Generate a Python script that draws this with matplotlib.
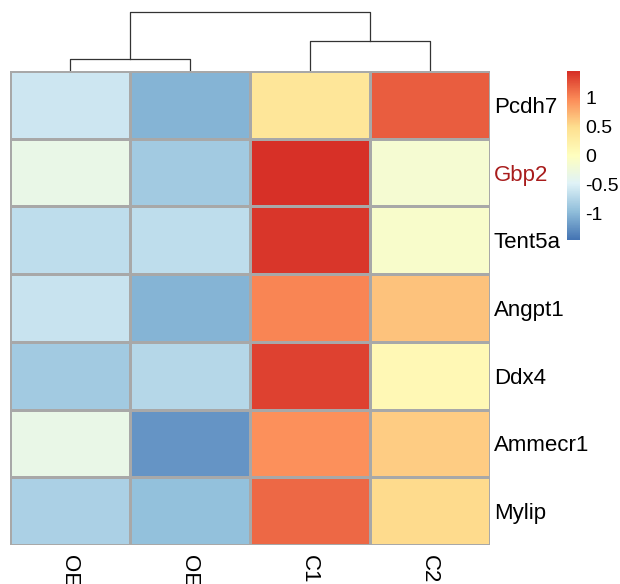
import numpy as np
import matplotlib
matplotlib.use("Agg")
import matplotlib.pyplot as plt
from matplotlib.colors import LinearSegmentedColormap, Normalize

plt.rcParams['font.family'] = ['Liberation Sans', 'DejaVu Sans']

genes = ["Pcdh7", "Gbp2", "Tent5a", "Angpt1", "Ddx4", "Ammecr1", "Mylip"]
samples = ["OE", "OE", "C1", "C2"]
values = np.array([
    [-0.60, -1.05, 0.38, 1.20],
    [-0.35, -0.85, 1.45, -0.15],
    [-0.70, -0.68, 1.42, -0.10],
    [-0.62, -1.05, 1.00, 0.65],
    [-0.85, -0.75, 1.35, 0.10],
    [-0.35, -1.25, 0.95, 0.60],
    [-0.80, -0.95, 1.15, 0.52],
])
merge_heights = [0.7, 1.7, 3.4]
cbar_ticks = [-1, -0.5, 0, 0.5, 1]
vlim = 1.46

palette = ["#4575B4", "#91BFDB", "#E0F3F8", "#FFFFBF", "#FEE090", "#FC8D59", "#D73027"]
cmap = LinearSegmentedColormap.from_list("rdylbu", palette, N=100)
norm = Normalize(-vlim, vlim)

W, H = 620, 584
fig = plt.figure(figsize=(W / 100, H / 100), dpi=100)

def ax_px(x0, y0, x1, y1):
    return fig.add_axes([x0 / W, 1 - y1 / H, (x1 - x0) / W, (y1 - y0) / H])

# heatmap
ax = ax_px(9.5, 71, 489.5, 545)
nr, nc = values.shape
ax.pcolormesh(np.arange(nc + 1), np.arange(nr + 1), values, cmap=cmap, norm=norm,
              edgecolors="#A8A8A8", linewidth=0.75)
ax.set_xlim(0, nc)
ax.set_ylim(nr, 0)
ax.set_xticks(np.arange(nc) + 0.5)
ax.set_xticklabels(samples, rotation=270, fontsize=16)
ax.set_yticks(np.arange(nr) + 0.5)
ax.set_yticklabels(genes, fontsize=16)
ax.yaxis.tick_right()
ax.tick_params(axis="y", length=0, pad=3)
ax.tick_params(axis="x", length=0, pad=7)
for lab in ax.get_yticklabels():
    if lab.get_text() == "Gbp2":
        lab.set_color("#A81C1C")
for s in ax.spines.values():
    s.set_visible(False)

# dendrogram
dax = ax_px(9.5, 10, 489.5, 71)
h1, h2, h3 = merge_heights
c = np.arange(nc) + 0.5
lc = "#333333"
lw = 0.9
dax.plot([c[0], c[0], c[1], c[1]], [0, h1, h1, 0], color=lc, lw=lw)
dax.plot([c[2], c[2], c[3], c[3]], [0, h2, h2, 0], color=lc, lw=lw)
m1 = (c[0] + c[1]) / 2
m2 = (c[2] + c[3]) / 2
dax.plot([m1, m1, m2, m2], [h1, h3, h3, h2], color=lc, lw=lw)
dax.set_xlim(0, nc)
dax.set_ylim(0, h3 * 1.03)
dax.axis("off")

# colorbar
cax = ax_px(567, 71, 580, 240)
grad = np.linspace(-vlim, vlim, 100).reshape(-1, 1)
cax.imshow(grad, aspect="auto", cmap=cmap, norm=norm, origin="lower",
           extent=[0, 1, -vlim, vlim])
cax.set_xticks([])
cax.yaxis.tick_right()
cax.set_yticks(cbar_ticks)
cax.set_yticklabels([f"{t:g}" for t in cbar_ticks], fontsize=14)
cax.tick_params(length=0, pad=4)
for s in cax.spines.values():
    s.set_visible(False)

fig.savefig("out.png", dpi=100)
